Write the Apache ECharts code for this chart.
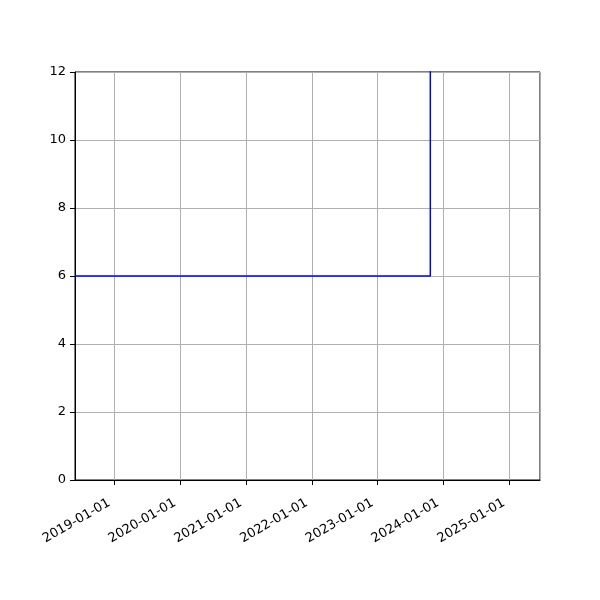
<!DOCTYPE html>
<html>
<head>
<meta charset="utf-8">
<script src="https://cdn.jsdelivr.net/npm/echarts@6/dist/echarts.min.js"></script>
<style>
html, body {margin: 0; padding: 0; background: #fff;}
#main {width: 600px; height: 600px;}
</style>
</head>
<body>
<div id="main"></div>
<script>
// 数据
var xRange = ['2018-05-27', '2025-06-21'];
var stepDates = ['2018-05-27', '2023-10-21', '2023-10-21'];
var stepValues = [6, 6, 14];
var yTicks = [0, 12, 2];   // min, max, interval

function toTime(s) {
    var p = s.split('-');
    return Date.UTC(+p[0], +p[1] - 1, +p[2]);
}
function pad(n) { return n < 10 ? '0' + n : '' + n; }

var lineData = stepDates.map(function (d, i) {
    return [toTime(d), stepValues[i]];
});

var option = {
    animation: false,
    useUTC: true,
    grid: {left: 75, right: 60, top: 72, bottom: 120, show: true, borderColor: '#000', borderWidth: 1, backgroundColor: 'transparent'},
    xAxis: {
        type: 'time',
        min: toTime(xRange[0]),
        max: toTime(xRange[1]),
        minInterval: 365 * 24 * 3600 * 1000,
        splitNumber: 7,
        axisLine: {show: true, lineStyle: {color: '#000', width: 1}},
        axisTick: {show: true, length: 5, lineStyle: {color: '#000'}},
        splitLine: {show: true, lineStyle: {color: '#b0b0b0', width: 1}},
        axisLabel: {
            rotate: 30,
            color: '#000',
            fontSize: 13,
            fontFamily: 'DejaVu Sans',
            margin: 19,
            padding: [0, 6, 0, 0],
            showMinLabel: false,
            showMaxLabel: false,
            formatter: function (v) {
                var d = new Date(v);
                return d.getUTCFullYear() + '-' + pad(d.getUTCMonth() + 1) + '-' + pad(d.getUTCDate());
            }
        }
    },
    yAxis: {
        type: 'value',
        min: yTicks[0],
        max: yTicks[1],
        interval: yTicks[2],
        axisLine: {show: true, lineStyle: {color: '#000', width: 1}},
        axisTick: {show: true, length: 5, lineStyle: {color: '#000'}},
        splitLine: {show: true, lineStyle: {color: '#b0b0b0', width: 1}},
        axisLabel: {color: '#000', fontSize: 13, fontFamily: 'DejaVu Sans', margin: 9}
    },
    series: [{
        type: 'line',
        data: lineData,
        showSymbol: false,
        clip: true,
        lineStyle: {color: '#0000ff', width: 1.5},
        itemStyle: {color: '#0000ff'}
    }]
};

var myChart = echarts.init(document.getElementById('main'));
myChart.setOption(option);
</script>
</body>
</html>
